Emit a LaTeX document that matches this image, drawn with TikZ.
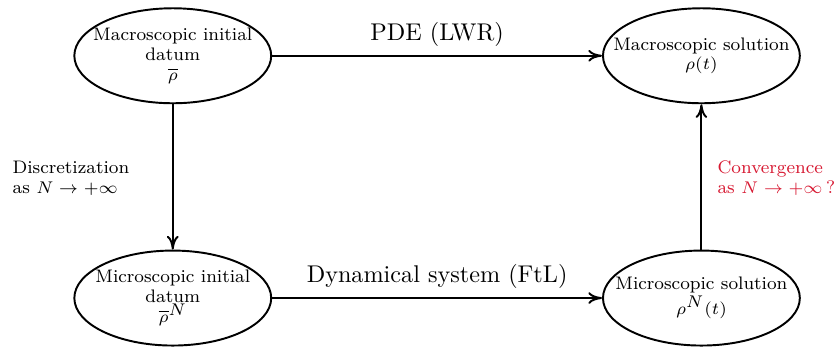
\documentclass[tikz,border=0pt]{standalone}
\usetikzlibrary{shapes.geometric,arrows.meta}
\definecolor{convred}{RGB}{215,25,50}
\newcommand{\smalltext}{\fontsize{7.5}{8.2}\selectfont}
\begin{document}
\begin{tikzpicture}[line join=round,thick,>={To[length=2mm,width=1.7mm]}]
	\tikzset{state/.style={ellipse,draw,align=center,font=\smalltext,minimum width=2.86cm,minimum height=1.38cm,inner sep=-0.3cm}}
	\tikzset{side/.style={anchor=west,align=left,font=\smalltext,inner sep=0pt}}
	\useasboundingbox (0,0) rectangle (12.16,5.04);
	\node[state] (macinit) at (2.51,4.23) {Macroscopic initial\\datum\\$\overline{\rho}$};
	\node[state] (macsol) at (10.19,4.23) {Macroscopic solution\\$\rho(t)$};
	\node[state] (micinit) at (2.51,0.71) {Microscopic initial\\datum\\$\overline{\rho}^{\textstyle N}$};
	\node[state] (micsol) at (10.19,0.71) {Microscopic solution\\$\rho^{\textstyle N}(t)$};
	\draw[->] (macinit) -- node[above] {PDE (LWR)} (macsol);
	\draw[->] (micinit) -- node[above] {Dynamical system (FtL)} (micsol);
	\draw[->] (macinit) -- (micinit);
	\draw[->] (micsol) -- (macsol);
	\node[side] (discr) at (0.17,2.45) {Discretization\\as $N\to+\infty$};
	\node[side,text=convred] (conv) at (10.41,2.45) {Convergence\\as $N\to+\infty\,$?};
\end{tikzpicture}
\end{document}
